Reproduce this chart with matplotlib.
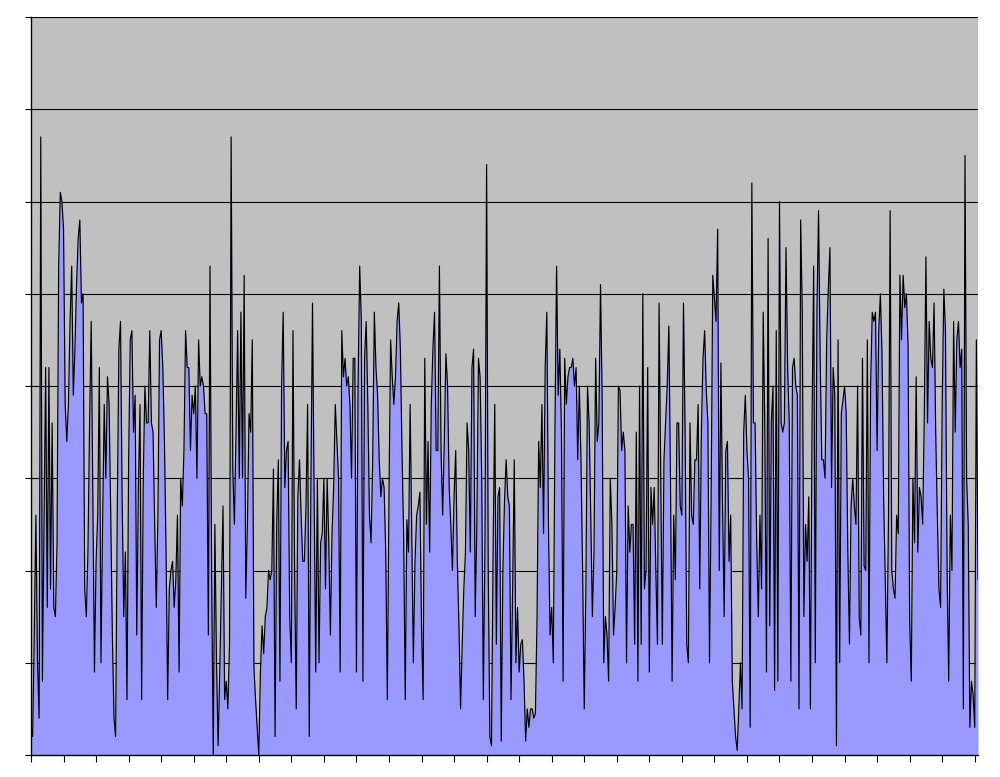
import matplotlib
matplotlib.use("Agg")
import matplotlib.pyplot as plt

# series values (one per category), 20 per tick interval
values = [
    0.3, 0.2, 1.3, 2.6, 1.0, 0.4, 6.7, 0.8, 2.5, 4.2, 1.6, 4.2, 1.8, 3.6, 1.6, 1.5, 2.3, 5.3, 6.1, 6.0,
    5.7, 3.8, 3.4, 3.8, 4.7, 5.3, 3.9, 4.4, 5.1, 5.6, 5.8, 4.9, 5.0, 1.8, 1.5, 2.2, 3.6, 4.7, 2.8, 0.9,
    2.1, 2.6, 4.2, 1.0, 2.5, 3.8, 3.0, 4.1, 3.8, 2.6, 1.3, 0.4, 0.2, 2.6, 4.4, 4.7, 2.8, 1.5, 2.2, 0.6,
    3.2, 4.5, 4.6, 3.5, 3.9, 1.3, 2.9, 3.8, 0.6, 3.0, 4.0, 3.6, 3.6, 4.6, 3.6, 3.5, 2.5, 1.6, 2.6, 4.5,
    4.6, 4.2, 3.4, 2.2, 0.6, 1.8, 2.0, 2.1, 1.6, 1.9, 2.6, 0.9, 3.0, 2.7, 3.3, 4.6, 4.2, 4.2, 3.3, 3.9,
    3.7, 4.0, 3.0, 4.5, 4.0, 4.1, 4.0, 3.7, 3.7, 1.3, 5.3, 2.0, 0.0, 2.5, 1.0, 0.1, 0.9, 1.8, 2.7, 0.6,
    0.8, 0.5, 1.2, 6.7, 3.1, 2.5, 3.5, 4.6, 3.0, 4.8, 3.0, 5.2, 1.7, 2.5, 3.7, 3.5, 4.5, 0.95, 0.6, 0.3,
    0.0, 0.9, 1.4, 1.1, 1.5, 1.6, 2.0, 1.9, 2.0, 3.1, 0.2, 2.5, 3.2, 0.8, 4.0, 4.8, 2.9, 3.3, 3.4, 1.5,
    1.0, 4.6, 2.0, 0.5, 2.8, 3.2, 2.6, 2.1, 2.1, 2.7, 3.8, 0.2, 2.9, 4.9, 2.8, 0.9, 3.0, 1.0, 2.3, 2.4,
    3.0, 1.8, 3.0, 2.3, 1.3, 2.4, 2.9, 3.8, 3.4, 3.0, 0.9, 4.6, 4.1, 4.3, 4.0, 4.1, 3.8, 3.0, 4.3, 4.3,
    0.9, 4.0, 5.3, 4.7, 0.8, 4.3, 4.7, 3.8, 2.6, 2.3, 3.2, 4.8, 4.2, 3.9, 3.2, 2.8, 3.0, 2.9, 2.2, 0.6,
    2.8, 4.5, 4.1, 3.8, 4.1, 4.7, 4.9, 4.4, 3.3, 2.4, 0.6, 2.55, 2.2, 3.8, 2.4, 1.0, 2.1, 2.6, 2.7, 2.85,
    1.4, 0.6, 4.3, 2.5, 3.4, 2.2, 3.8, 4.4, 4.8, 3.3, 3.3, 5.3, 3.3, 2.6, 3.4, 4.35, 4.0, 2.9, 2.5, 2.0,
    2.8, 3.3, 2.1, 1.4, 0.5, 1.2, 1.8, 2.2, 3.6, 3.3, 2.2, 4.2, 4.4, 1.5, 2.5, 4.3, 4.1, 3.0, 0.6, 2.3,
    6.4, 2.0, 0.2, 0.1, 2.2, 3.8, 1.2, 2.8, 2.9, 0.15, 2.0, 2.75, 3.2, 2.8, 2.7, 0.6, 1.8, 3.2, 1.0, 1.6,
    0.9, 1.2, 1.25, 0.8, 0.15, 0.5, 0.3, 0.5, 0.5, 0.4, 0.45, 1.5, 3.4, 2.9, 3.8, 2.4, 4.2, 4.8, 2.5, 1.3,
    1.6, 1.0, 3.5, 5.3, 3.9, 4.4, 3.5, 0.8, 4.3, 3.8, 4.1, 4.2, 4.2, 4.3, 4.0, 4.2, 3.2, 4.0, 3.2, 2.0,
    0.5, 1.8, 4.0, 3.6, 2.6, 1.5, 2.2, 4.3, 3.4, 3.6, 5.1, 3.9, 1.0, 1.5, 1.3, 0.8, 3.0, 2.5, 1.3, 1.6,
    2.0, 4.0, 3.95, 3.3, 3.5, 3.3, 1.0, 2.7, 2.2, 2.5, 2.5, 1.2, 3.5, 0.8, 4.0, 1.2, 5.0, 1.8, 2.0, 4.2,
    0.9, 2.9, 2.5, 2.9, 2.0, 1.2, 4.9, 3.0, 1.2, 3.2, 3.6, 4.0, 4.65, 3.0, 0.8, 2.6, 1.9, 3.6, 3.6, 2.7,
    2.6, 4.9, 3.5, 1.2, 1.0, 3.6, 2.6, 2.5, 3.2, 3.2, 3.8, 1.8, 3.5, 4.3, 4.6, 3.95, 3.6, 1.0, 2.8, 5.2,
    4.95, 4.7, 5.7, 2.0, 4.25, 2.7, 1.5, 3.3, 3.4, 2.1, 2.6, 0.8, 0.5, 0.2, 0.05, 0.5, 1.0, 0.5, 3.5, 3.9,
    3.3, 3.0, 0.3, 6.2, 3.6, 3.6, 2.3, 1.5, 2.6, 1.8, 4.8, 3.5, 0.9, 5.6, 1.4, 3.6, 4.0, 0.7, 4.6, 0.8,
    6.0, 3.6, 3.5, 3.6, 5.5, 4.2, 3.6, 0.8, 4.2, 4.3, 4.0, 3.9, 0.5, 5.8, 4.8, 1.5, 2.5, 2.1, 2.8, 0.5,
    3.6, 5.3, 1.0, 4.8, 5.9, 4.3, 3.2, 3.2, 3.0, 4.5, 5.05, 5.5, 2.9, 4.2, 3.9, 0.1, 4.5, 1.0, 3.7, 3.85,
    4.0, 3.7, 2.2, 1.2, 2.7, 3.0, 2.7, 2.5, 4.0, 1.5, 1.3, 4.3, 2.05, 2.0, 4.5, 1.0, 4.0, 4.8, 4.7, 4.8,
    3.3, 4.6, 5.0, 4.35, 2.8, 1.9, 1.0, 2.6, 5.9, 2.0, 1.8, 1.7, 2.6, 2.4, 5.2, 4.5, 5.2, 4.85, 5.0, 4.45,
    1.45, 0.8, 3.0, 2.3, 4.1, 2.2, 2.9, 2.8, 2.5, 3.7, 5.4, 3.6, 4.7, 4.3, 4.2, 4.9, 3.5, 2.6, 1.8, 1.6,
    3.8, 5.05, 4.6, 2.0, 0.8, 2.6, 2.0, 4.7, 3.5, 4.5, 4.7, 4.2, 4.4, 0.5, 6.5, 3.0, 2.5, 0.3, 0.8, 0.65,
    0.3, 4.5, 1.9,
]
categories = list(range(len(values)))
y_ticks = [0, 1, 2, 3, 4, 5, 6, 7, 8]
x_ticks = list(range(0, len(values), 20))

fig = plt.figure(figsize=(10, 7.77), dpi=100)
ax = fig.add_axes([0.031, 0.0283, 0.947, 0.9498])
ax.set_facecolor('#C0C0C0')
ax.set_axisbelow(True)

ax.fill_between(categories, values, 0, color='#9999FF', lw=0, zorder=2)
ax.plot(categories, values, color='black', lw=0.85, zorder=3)

ax.set_xlim(0, len(values) - 1)
ax.set_ylim(0, 8)
ax.set_yticks(y_ticks)
ax.set_xticks(x_ticks)
ax.yaxis.grid(True, color='black', lw=0.8)
ax.xaxis.grid(False)

for s in ['top', 'right']:
    ax.spines[s].set_visible(False)
for s in ['left', 'bottom']:
    ax.spines[s].set_color('black')
    ax.spines[s].set_linewidth(1.0)
    ax.spines[s].set_zorder(4)

ax.tick_params(axis='y', direction='out', length=4, width=0.8, labelleft=False)
ax.tick_params(axis='x', direction='out', length=5, width=0.8, labelbottom=False)

fig.savefig('out.png', dpi=100, facecolor='white')
